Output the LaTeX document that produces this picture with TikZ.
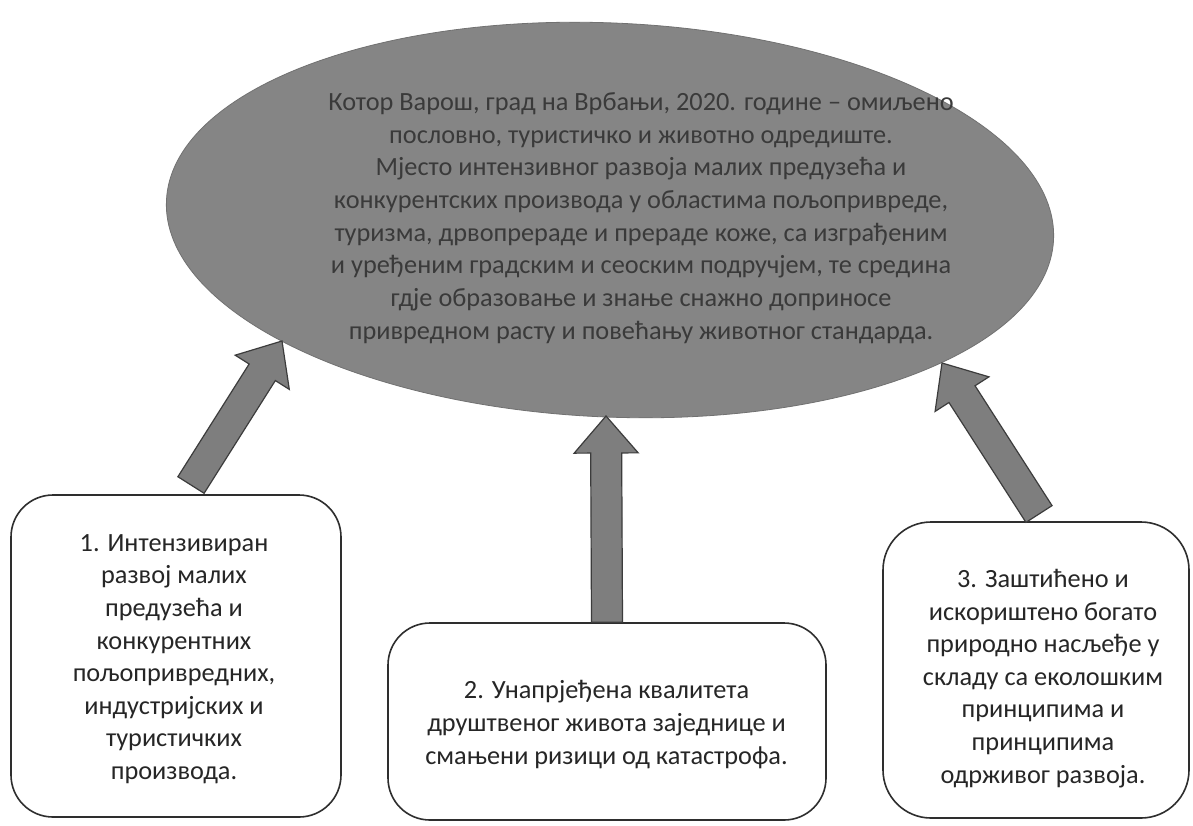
\documentclass[tikz,border=0pt]{standalone}
\usepackage{fontspec}
\setmainfont{Carlito}
\usetikzlibrary{shapes.geometric,calc}
\definecolor{ellfill}{HTML}{858585}
\definecolor{elltext}{HTML}{3A3A3A}
\definecolor{arrfill}{HTML}{7E7E7E}
\definecolor{arrline}{HTML}{3C3C3C}
\definecolor{boxline}{HTML}{2E2E2E}
\definecolor{boxtext}{HTML}{262626}
\tikzset{
  roundbox/.style={draw=boxline, line width=1.6pt, rounded corners=42pt, fill=white, inner sep=0pt},
  boxlabel/.style={align=center, inner sep=0pt, text=boxtext, font=\fontsize{26.3}{32.6}\selectfont},
  fatarrowstyle/.style={fill=arrfill, draw=arrline, line width=1.2pt, line join=miter},
}
\newcommand\fatarrow[2]{%
  \coordinate (nk) at ($(#2)!37pt!(#1)$);
  \draw[fatarrowstyle]
    ($(#1)!15.5pt!90:(#2)$) -- ($(nk)!15.5pt!90:(#2)$) -- ($(nk)!32pt!90:(#2)$)
    -- (#2) -- ($(nk)!32pt!-90:(#2)$) -- ($(nk)!15.5pt!-90:(#2)$)
    -- ($(#1)!15.5pt!-90:(#2)$) -- cycle;
}
\begin{document}
\begin{tikzpicture}[x=1pt,y=-1pt]
\useasboundingbox (0,0) rectangle (1193,825);
\fill[white] (0,0) rectangle (1193,825);

% central ellipse
\node[ellipse, minimum width=888pt, minimum height=394pt, rotate=-2.5,
      fill=ellfill, draw=ellfill!85!black, line width=0.8pt, inner sep=0pt] (ell) at (610,220) {};
\node[align=center, text=elltext, inner sep=0pt,
      font=\fontsize{26.3}{32.7}\selectfont] (elltxt) at (641,218)
 {Котор Варош, град на Врбањи, 2020. године – омиљено\\
  пословно, туристичко и животно одредиште.\\
  Мјесто интензивног развоја малих предузећа и\\
  конкурентских производа у областима пољопривреде,\\
  туризма, дрвопрераде и прераде коже, са изграђеним\\
  и уређеним градским и сеоским подручјем, те средина\\
  гдје образовање и знање снажно доприносе\\
  привредном расту и повећању животног стандарда.};

% boxes
\node[roundbox, minimum width=330pt, minimum height=322pt] (b1) at (176,656) {};
\node[boxlabel] (b1t) at (174,659)
 {1. Интензивиран\\ развој малих\\ предузећа и\\ конкурентних\\ пољопривредних,\\ индустријских и\\ туристичких\\ производа.};
\node[roundbox, minimum width=438pt, minimum height=197pt] (b2) at (607,721.5) {};
\node[boxlabel] (b2t) at (606.5,724.5)
 {2. Унапрјеђена квалитета\\ друштвеног живота заједнице и\\ смањени ризици од катастрофа.};
\node[roundbox, minimum width=306pt, minimum height=296pt, rounded corners=48pt] (b3) at (1036,670) {};
\node[boxlabel] (b3t) at (1043,678.5)
 {3. Заштићено и\\ искориштено богато\\ природно насљеђе у\\ складу са еколошким\\ принципима и\\ принципима\\ одрживог развоја.};

% arrow end points
\coordinate (a1) at (191,485);
\coordinate (t1) at (282,341);
\coordinate (a2) at (b2.north);
\coordinate (t2) at (606,416);
\coordinate (a3) at (1039,514);
\coordinate (t3) at (942,363);

\fatarrow{a1}{t1}
\fatarrow{a2}{t2}
\fatarrow{a3}{t3}
\end{tikzpicture}
\end{document}
